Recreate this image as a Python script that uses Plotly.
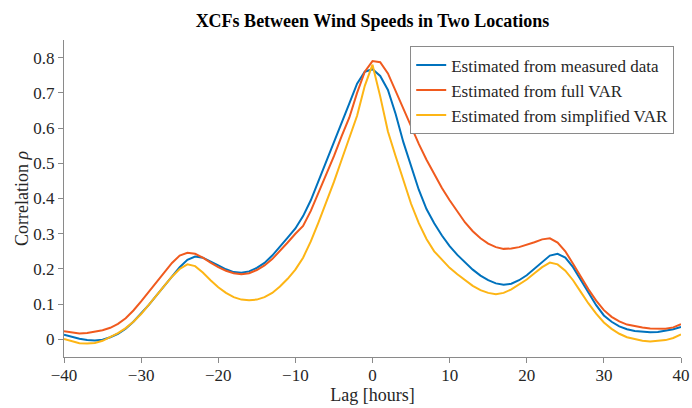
import plotly.graph_objects as go

lags = list(range(-40, 41))

measured = [0.013, 0.007, 0.002, -0.002, -0.003, -0.001, 0.006, 0.016, 0.030, 0.050,
            0.073, 0.098, 0.125, 0.152, 0.180, 0.205, 0.226, 0.235, 0.232, 0.222,
            0.210, 0.199, 0.191, 0.189, 0.193, 0.203, 0.217, 0.238, 0.262, 0.289,
            0.315, 0.350, 0.395, 0.450, 0.500, 0.555, 0.612, 0.670, 0.726, 0.760,
            0.767, 0.748, 0.708, 0.640, 0.560, 0.490, 0.425, 0.370, 0.330, 0.295,
            0.265, 0.240, 0.218, 0.198, 0.181, 0.168, 0.159, 0.155, 0.158, 0.168,
            0.182, 0.200, 0.220, 0.238, 0.243, 0.232, 0.205, 0.170, 0.132, 0.097,
            0.068, 0.050, 0.037, 0.029, 0.024, 0.021, 0.020, 0.021, 0.024, 0.029,
            0.035]

full_var = [0.023, 0.019, 0.017, 0.018, 0.021, 0.026, 0.033, 0.044, 0.060, 0.082,
            0.108, 0.135, 0.162, 0.190, 0.217, 0.238, 0.246, 0.243, 0.232, 0.218,
            0.205, 0.195, 0.188, 0.185, 0.188, 0.197, 0.210, 0.228, 0.250, 0.275,
            0.300, 0.322, 0.365, 0.415, 0.465, 0.520, 0.577, 0.630, 0.700, 0.760,
            0.790, 0.787, 0.755, 0.705, 0.650, 0.600, 0.555, 0.510, 0.470, 0.430,
            0.395, 0.362, 0.332, 0.307, 0.287, 0.272, 0.262, 0.257, 0.258, 0.262,
            0.268, 0.276, 0.284, 0.287, 0.275, 0.250, 0.215, 0.178, 0.142, 0.110,
            0.083, 0.064, 0.051, 0.042, 0.037, 0.034, 0.031, 0.030, 0.030, 0.034,
            0.043]

simplified_var = [0.001, -0.006, -0.011, -0.012, -0.010, -0.004, 0.006, 0.018, 0.032, 0.050,
                  0.072, 0.097, 0.125, 0.152, 0.178, 0.200, 0.213, 0.208, 0.190, 0.168,
                  0.148, 0.132, 0.120, 0.113, 0.111, 0.113, 0.120, 0.132, 0.150, 0.172,
                  0.198, 0.232, 0.278, 0.332, 0.388, 0.447, 0.510, 0.572, 0.635, 0.720,
                  0.780, 0.690, 0.590, 0.520, 0.452, 0.385, 0.330, 0.285, 0.250, 0.225,
                  0.203, 0.185, 0.168, 0.152, 0.140, 0.132, 0.128, 0.132, 0.142, 0.155,
                  0.170, 0.188, 0.205, 0.218, 0.213, 0.195, 0.168, 0.135, 0.102, 0.073,
                  0.048, 0.030, 0.016, 0.006, 0.000, -0.004, -0.006, -0.005, -0.002, 0.004,
                  0.014]

series_names = ["Estimated from measured data", "Estimated from full VAR",
                "Estimated from simplified VAR"]
series_colors = ["#0072BD", "#F05A1E", "#FDB515"]

x_ticks = [-40, -30, -20, -10, 0, 10, 20, 30, 40]
y_ticks = [0, 0.1, 0.2, 0.3, 0.4, 0.5, 0.6, 0.7, 0.8]
y_tick_text = ["0", "0.1", "0.2", "0.3", "0.4", "0.5", "0.6", "0.7", "0.8"]

FONT = "Times New Roman, Liberation Serif, DejaVu Serif, serif"

fig = go.Figure()
for name, vals, col in zip(series_names, [measured, full_var, simplified_var], series_colors):
    fig.add_trace(go.Scatter(x=lags, y=vals, mode="lines", name=name,
                             line=dict(color=col, width=2)))

axis_common = dict(showgrid=False, zeroline=False, showline=True, linecolor="#8a8a8a",
                   linewidth=1, ticks="outside", ticklen=5, tickcolor="#8a8a8a",
                   automargin=False,
                   tickfont=dict(family=FONT, size=17, color="#262626"))

fig.update_layout(
    width=692, height=408,
    margin=dict(l=64, r=11, t=40, b=51, autoexpand=False),
    paper_bgcolor="white", plot_bgcolor="white",
    font=dict(family=FONT),
    title=dict(text="<b>XCFs Between Wind Speeds in Two Locations</b>",
               font=dict(family=FONT, size=18, color="#000000"),
               x=(64 + 617 / 2) / 692, xanchor="center", y=0.95, yanchor="middle"),
    xaxis=dict(range=[-40, 40], tickvals=x_ticks, ticklabelstandoff=-2,
               title=dict(text="Lag [hours]", font=dict(family=FONT, size=18, color="#262626"),
                          standoff=0),
               **axis_common),
    yaxis=dict(range=[-0.05, 0.85], tickvals=y_ticks, ticktext=y_tick_text,
               title=dict(text="Correlation <i>ρ</i>", font=dict(family=FONT, size=18, color="#262626"),
                          standoff=0),
               **axis_common),
    legend=dict(x=0.989, y=0.98, xanchor="right", yanchor="top",
                bgcolor="white", bordercolor="#8a8a8a", borderwidth=1,
                font=dict(family=FONT, size=17, color="#262626"),
                itemwidth=30, tracegroupgap=0),
    showlegend=True,
)

fig.write_html("out.html", config={"displayModeBar": False},
               post_script="document.body.style.margin='0px';document.body.style.overflow='hidden';")
